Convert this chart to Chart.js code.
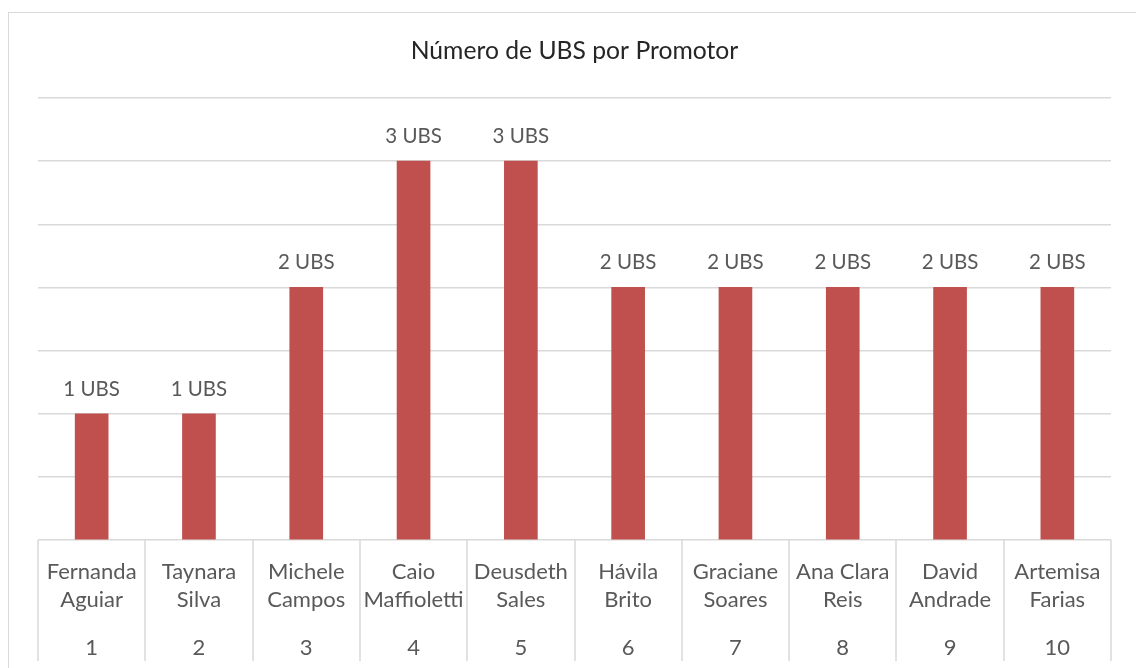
<!DOCTYPE html>
<html>
<head>
<meta charset="utf-8">
<script src="https://cdn.jsdelivr.net/npm/chart.js@4.4.1/dist/chart.umd.min.js"></script>
<style>
  html, body { margin: 0; padding: 0; background: #ffffff; overflow: hidden; }
  #frame { position: absolute; left: 8px; top: 12px; width: 1150px; height: 680px; border: 1.5px solid #d9d9d9; box-sizing: border-box; }
  #wrap { position: absolute; left: 0; top: 0; width: 1136px; height: 668px; }
</style>
</head>
<body>
<div id="frame"></div>
<div id="wrap"><canvas id="c" width="1136" height="668"></canvas></div>
<script>
const chartTitle = 'Número de UBS por Promotor';
const promoters = [
  ['Fernanda', 'Aguiar'], ['Taynara', 'Silva'], ['Michele', 'Campos'], ['Caio', 'Maffioletti'],
  ['Deusdeth', 'Sales'], ['Hávila', 'Brito'], ['Graciane', 'Soares'], ['Ana Clara', 'Reis'],
  ['David', 'Andrade'], ['Artemisa', 'Farias']
];
const promoterNumbers = ['1', '2', '3', '4', '5', '6', '7', '8', '9', '10'];
const ubsCounts = [1, 1, 2, 3, 3, 2, 2, 2, 2, 2];
const valueSuffix = ' UBS';

const FONT = 'Lato, "Open Sans", sans-serif';
const TEXT = '#595959';
const GRID = '#d9d9d9';

const barLabels = {
  id: 'barLabels',
  afterDatasetsDraw(chart) {
    const ctx = chart.ctx;
    const meta = chart.getDatasetMeta(0);
    ctx.save();
    ctx.font = '20.5px ' + FONT;
    ctx.fillStyle = TEXT;
    ctx.textAlign = 'center';
    ctx.textBaseline = 'alphabetic';
    meta.data.forEach((bar, i) => {
      ctx.fillText(chart.data.datasets[0].data[i] + valueSuffix, bar.x, bar.y - 18);
    });
    ctx.restore();
  }
};

const separators = {
  id: 'separators',
  afterDraw(chart) {
    const sx = chart.scales.x;
    const ctx = chart.ctx;
    const top = chart.chartArea.bottom;
    ctx.save();
    ctx.strokeStyle = GRID;
    ctx.lineWidth = 1.5;
    for (let i = 0; i <= promoters.length; i++) {
      const px = Math.round(sx.getPixelForValue(i - 0.5));
      ctx.beginPath();
      ctx.moveTo(px, top);
      ctx.lineTo(px, 661);
      ctx.stroke();
    }
    ctx.restore();
  }
};

new Chart(document.getElementById('c'), {
  type: 'bar',
  data: {
    labels: promoters,
    datasets: [{
      data: ubsCounts,
      backgroundColor: '#c0504d',
      borderWidth: 0,
      barThickness: 33,
      xAxisID: 'x',
      yAxisID: 'y'
    }]
  },
  options: {
    responsive: false,
    animation: false,
    layout: { padding: { left: 38, right: 25, top: 0, bottom: 0 } },
    plugins: {
      legend: { display: false },
      tooltip: { enabled: false },
      title: {
        display: true,
        text: chartTitle,
        color: '#262626',
        font: { family: FONT, size: 24.7, weight: 'normal', lineHeight: 1.2 },
        padding: { top: 36, bottom: 32.4 }
      }
    },
    scales: {
      y: {
        min: 0,
        max: 3.5,
        ticks: { display: false, stepSize: 0.5 },
        grid: { color: GRID, lineWidth: 1.5, drawTicks: false },
        border: { display: false }
      },
      x: {
        type: 'category',
        position: 'bottom',
        offset: true,
        grid: { display: false },
        border: { display: false },
        ticks: {
          autoSkip: false, maxRotation: 0, minRotation: 0,
          color: TEXT, padding: 10,
          font: { family: FONT, size: 22, lineHeight: '28px' }
        },
        afterFit(s) { s.height = 84; }
      },
      xNum: {
        type: 'category',
        labels: promoterNumbers,
        position: 'bottom',
        offset: true,
        grid: { display: false },
        border: { display: false },
        ticks: {
          autoSkip: false, maxRotation: 0, minRotation: 0,
          color: TEXT, padding: 1.5,
          font: { family: FONT, size: 22, lineHeight: '28px' }
        },
        afterFit(s) { s.height = 44; }
      }
    }
  },
  plugins: [barLabels, separators]
});
</script>
</body>
</html>
